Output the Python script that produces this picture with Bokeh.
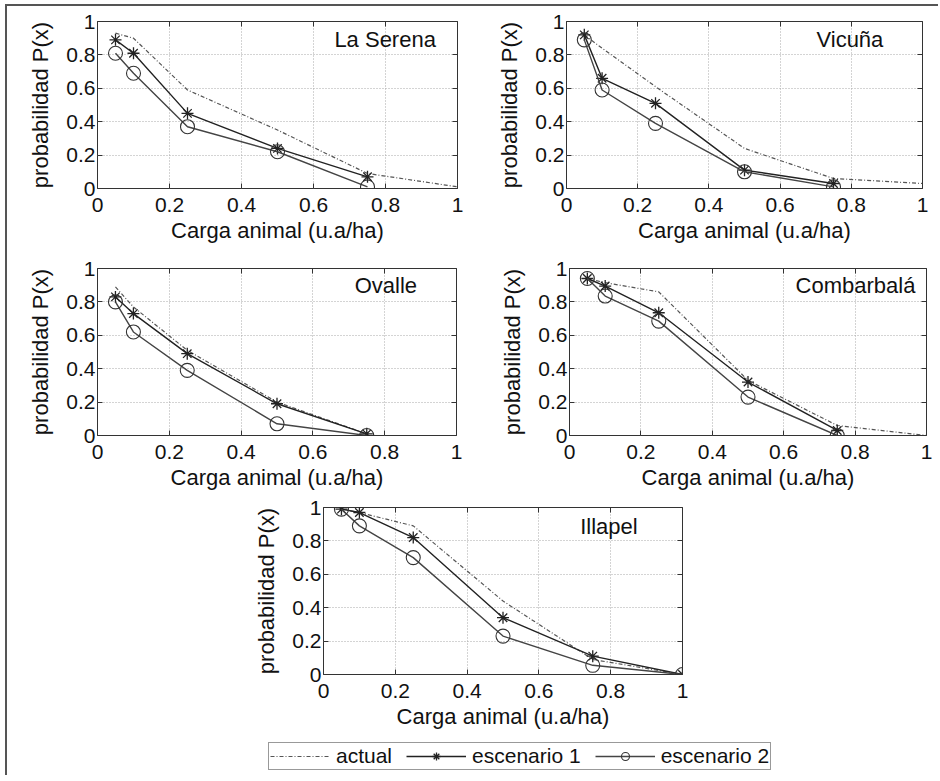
from bokeh.plotting import figure
from bokeh.models import Range1d, FixedTicker, LinearAxis, Legend, LegendItem
from bokeh.layouts import row, column
from bokeh.core.properties import value
from bokeh.embed import file_html
from bokeh.resources import INLINE

# ---------------- data ----------------
x_full = [0.05, 0.1, 0.25, 0.5, 0.75, 1.0]
x_short = [0.05, 0.1, 0.25, 0.5, 0.75]

ls_actual = [0.93, 0.90, 0.59, 0.35, 0.09, 0.01]
ls_esc1 = [0.89, 0.81, 0.45, 0.24, 0.07]
ls_esc2 = [0.81, 0.69, 0.37, 0.22, 0.01]

vi_actual = [0.92, 0.84, 0.61, 0.24, 0.06, 0.03]
vi_esc1 = [0.92, 0.66, 0.51, 0.11, 0.03]
vi_esc2 = [0.89, 0.59, 0.39, 0.10, 0.01]

ov_actual = [0.89, 0.77, 0.51, 0.20, 0.01]
ov_esc1 = [0.83, 0.73, 0.49, 0.19, 0.01]
ov_esc2 = [0.80, 0.62, 0.39, 0.07, 0.0]

co_actual = [0.94, 0.915, 0.86, 0.33, 0.06, 0.0]
co_esc1 = [0.94, 0.895, 0.735, 0.32, 0.03]
co_esc2 = [0.94, 0.835, 0.685, 0.23, 0.0]

il_actual = [0.99, 0.97, 0.89, 0.44, 0.09, 0.0]
il_esc1 = [0.99, 0.97, 0.82, 0.34, 0.11, 0.0]
il_esc2 = [0.99, 0.89, 0.70, 0.23, 0.055, 0.0]

tick_values = [0, 0.2, 0.4, 0.6, 0.8, 1]
tick_labels = ["0", "0.2", "0.4", "0.6", "0.8", "1"]

x_title = "Carga animal (u.a/ha)"
y_title = "probabilidad P(x)"
series_names = ["actual", "escenario 1", "escenario 2"]

FONT = "Liberation Sans"
TXT = "#111111"
C_ACT = "#555555"
C_E1 = "#222222"
C_E2 = "#444444"
C_MK2 = "#333333"
DASH = "4 2 1 2"


def make_panel(name, xa, ya, x1, y1, x2, y2, name_pos, borders, frame):
    left, right, top, bottom = borders
    fw, fh = frame
    p = figure(frame_width=fw, frame_height=fh,
               min_border_left=left, min_border_right=right,
               min_border_top=top, min_border_bottom=bottom,
               x_range=Range1d(0, 1), y_range=Range1d(0, 1),
               output_backend="svg", toolbar_location=None)
    p.outline_line_color = "#333333"
    p.outline_line_width = 1

    for g in (p.xgrid[0], p.ygrid[0]):
        g.ticker = FixedTicker(ticks=tick_values)
        g.grid_line_color = "#a8a8a8"
        g.grid_line_dash = "1 2"
        g.grid_line_width = 1

    for ax in (p.xaxis[0], p.yaxis[0]):
        ax.ticker = FixedTicker(ticks=tick_values)
        ax.major_label_overrides = dict(zip(tick_values, tick_labels))
        ax.major_tick_in = 5
        ax.major_tick_out = 0
        ax.major_tick_line_color = "#333333"
        ax.minor_tick_line_color = None
        ax.axis_line_color = None
        ax.major_label_text_font = FONT
        ax.major_label_text_font_size = "21px"
        ax.major_label_text_color = TXT
        ax.axis_label_text_font = FONT
        ax.axis_label_text_font_size = "22px"
        ax.axis_label_text_font_style = "normal"
        ax.axis_label_text_color = TXT
    p.xaxis[0].axis_label = x_title
    p.xaxis[0].major_label_standoff = 9
    p.xaxis[0].axis_label_standoff = 3
    p.yaxis[0].axis_label = y_title
    p.yaxis[0].major_label_standoff = 2
    p.yaxis[0].axis_label_standoff = 10

    for loc in ("above", "right"):
        ax = LinearAxis(ticker=FixedTicker(ticks=tick_values),
                        major_tick_in=5, major_tick_out=0,
                        major_tick_line_color="#333333",
                        minor_tick_line_color=None, axis_line_color=None,
                        major_label_text_font_size="0px",
                        major_label_text_color=None,
                        major_label_standoff=0)
        p.add_layout(ax, loc)

    p.line(xa, ya, line_color=C_ACT, line_dash=DASH, line_width=1.2)
    p.line(x1, y1, line_color=C_E1, line_width=1.4)
    p.scatter(x1, y1, marker="asterisk", size=12, line_color=C_E1, line_width=1.3)
    p.line(x2, y2, line_color=C_E2, line_width=1.4)
    p.scatter(x2, y2, marker="circle", size=14, line_color=C_MK2,
              fill_color=None, line_width=1.1)

    p.text(x=[name_pos[0]], y=[name_pos[1]], text=[name], text_align="right",
           text_baseline="middle", text_font=value(FONT), text_font_size="22px",
           text_color=TXT)
    return p


p1 = make_panel("La Serena", x_full, ls_actual, x_short, ls_esc1, x_short, ls_esc2,
                (0.94, 0.89), (90, 20, 15, 62), (360, 167))
p2 = make_panel("Vicuña", x_full, vi_actual, x_short, vi_esc1, x_short, vi_esc2,
                (0.89, 0.89), (89, 16, 15, 62), (356, 167))
p3 = make_panel("Ovalle", x_short, ov_actual, x_short, ov_esc1, x_short, ov_esc2,
                (0.89, 0.90), (90, 20, 18, 62), (359, 167))
p4 = make_panel("Combarbalá", x_full, co_actual, x_short, co_esc1, x_short, co_esc2,
                (0.969, 0.90), (93, 12, 18, 62), (357, 167))
p5 = make_panel("Illapel", x_full, il_actual, x_full, il_esc1, x_full, il_esc2,
                (0.875, 0.886), (316, 60, 10, 61), (359, 167))

# ---------------- legend strip (hidden copies of the Illapel series) ----------------
pl = figure(frame_width=924, frame_height=40, min_border=0,
            x_axis_location=None, y_axis_location=None,
            x_range=Range1d(0, 1), y_range=Range1d(0, 1),
            output_backend="svg", toolbar_location=None)
pl.outline_line_color = None
pl.grid.grid_line_color = None
la = pl.line(x_full, il_actual, line_color=C_ACT, line_dash=DASH, line_width=1.2, visible=False)
l1 = pl.line(x_full, il_esc1, line_color=C_E1, line_width=1.4, visible=False)
m1 = pl.scatter(x_full, il_esc1, marker="asterisk", line_color=C_E1, line_width=1.3, visible=False)
l2 = pl.line(x_full, il_esc2, line_color=C_E2, line_width=1.4, visible=False)
m2 = pl.scatter(x_full, il_esc2, marker="circle", line_color=C_MK2, fill_color=None,
                line_width=1.1, visible=False)
legend = Legend(items=[LegendItem(label=series_names[0], renderers=[la]),
                       LegendItem(label=series_names[1], renderers=[l1, m1]),
                       LegendItem(label=series_names[2], renderers=[l2, m2])],
                orientation="horizontal", location=(261, 5),
                glyph_width=60, glyph_height=20, label_standoff=6, spacing=14,
                padding=1, margin=0, border_line_color="#333333", border_line_width=1,
                label_text_font=FONT, label_text_font_size="21px",
                label_text_color=TXT, background_fill_alpha=1,
                inactive_fill_alpha=0, click_policy="none")
pl.add_layout(legend)

root = column(row(p1, p2), row(p3, p4), p5, row(pl),
              styles={"border-left": "2px solid #555555", "border-top": "2px solid #555555",
                      "margin-left": "5px", "margin-top": "4px"})

open("out.html", "w", encoding="utf-8").write(file_html(root, INLINE))
